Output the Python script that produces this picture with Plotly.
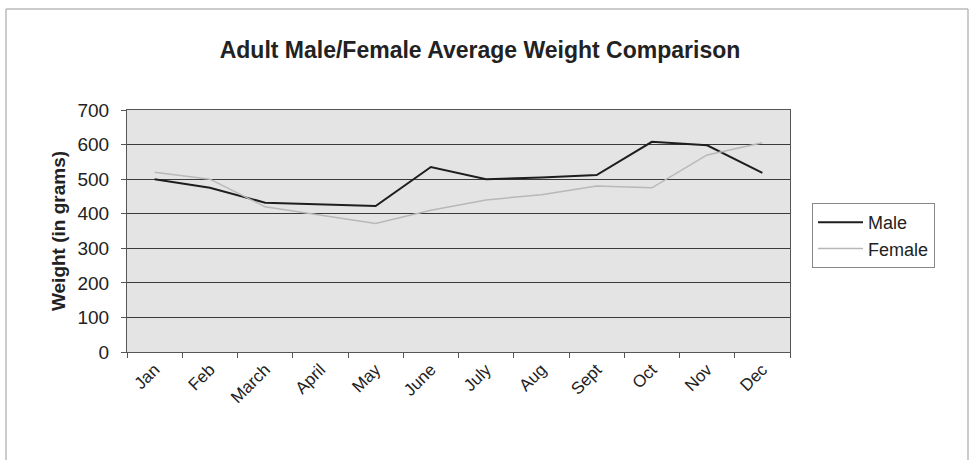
import plotly.graph_objects as go

months = ['Jan', 'Feb', 'March', 'April', 'May', 'June', 'July', 'Aug', 'Sept', 'Oct', 'Nov', 'Dec']
male = [500, 475, 432, 426, 422, 535, 500, 505, 512, 608, 598, 518]
female = [520, 500, 420, 395, 372, 410, 440, 455, 480, 475, 570, 605]

W, H = 971, 460
L, R, T, B = 127, 181, 110, 108
pw = W - L - R
ph = H - T - B

def px_x(x):
    return (x - L) / pw

def px_y(y):
    return (H - B - y) / ph

fig = go.Figure()
fig.add_trace(go.Scatter(x=months, y=male, name='Male', mode='lines',
                         line=dict(color='#1e1e1e', width=2)))
fig.add_trace(go.Scatter(x=months, y=female, name='Female', mode='lines',
                         line=dict(color='#b8b8b8', width=1.5)))

font = 'Liberation Sans, Arial, sans-serif'
fig.update_layout(
    width=W, height=H,
    margin=dict(l=L, r=R, t=T, b=B, autoexpand=False),
    paper_bgcolor='white',
    plot_bgcolor='#e4e4e4',
    font=dict(family=font, color='#222', size=17),
    title=dict(text='<b>Adult Male/Female Average Weight Comparison</b>',
               x=px_x(480), xref='paper', xanchor='center',
               y=1 - 50 / H, yanchor='middle',
               font=dict(size=23, family=font, color='#222')),
    legend=dict(x=px_x(812), y=px_y(203), xanchor='left', yanchor='top',
                bordercolor='#888', borderwidth=1, bgcolor='white',
                font=dict(size=18), tracegroupgap=0, itemwidth=45),
    showlegend=True,
)
fig.update_xaxes(type='category', range=[-0.5, 11.5], tickson='boundaries',
                 ticks='outside', ticklen=5, ticklabelstandoff=0, automargin=False,
                 tickcolor='#555', showgrid=False, showline=True, linecolor='#555',
                 mirror=True, tickangle=-45, tickfont=dict(size=17))
fig.update_yaxes(range=[0, 700], dtick=100, ticks='outside', ticklen=5, tickcolor='#555',
                 ticklabelstandoff=8, automargin=False,
                 showgrid=True, gridcolor='#3a3a3a', gridwidth=1,
                 showline=True, linecolor='#555', mirror=True, zeroline=False,
                 tickfont=dict(size=19),
                 title=dict(text='<b>Weight (in grams)</b>', font=dict(size=19), standoff=6))

# outer chart border
fig.add_shape(type='rect', xref='paper', yref='paper',
              x0=px_x(6), x1=px_x(968), y0=px_y(462), y1=px_y(9),
              line=dict(color='#999', width=1))

# drop the default page margin so the chart sits at the window origin
fig.write_html("out.html", config={'displayModeBar': False},
               post_script="document.body.style.margin='0px';")
